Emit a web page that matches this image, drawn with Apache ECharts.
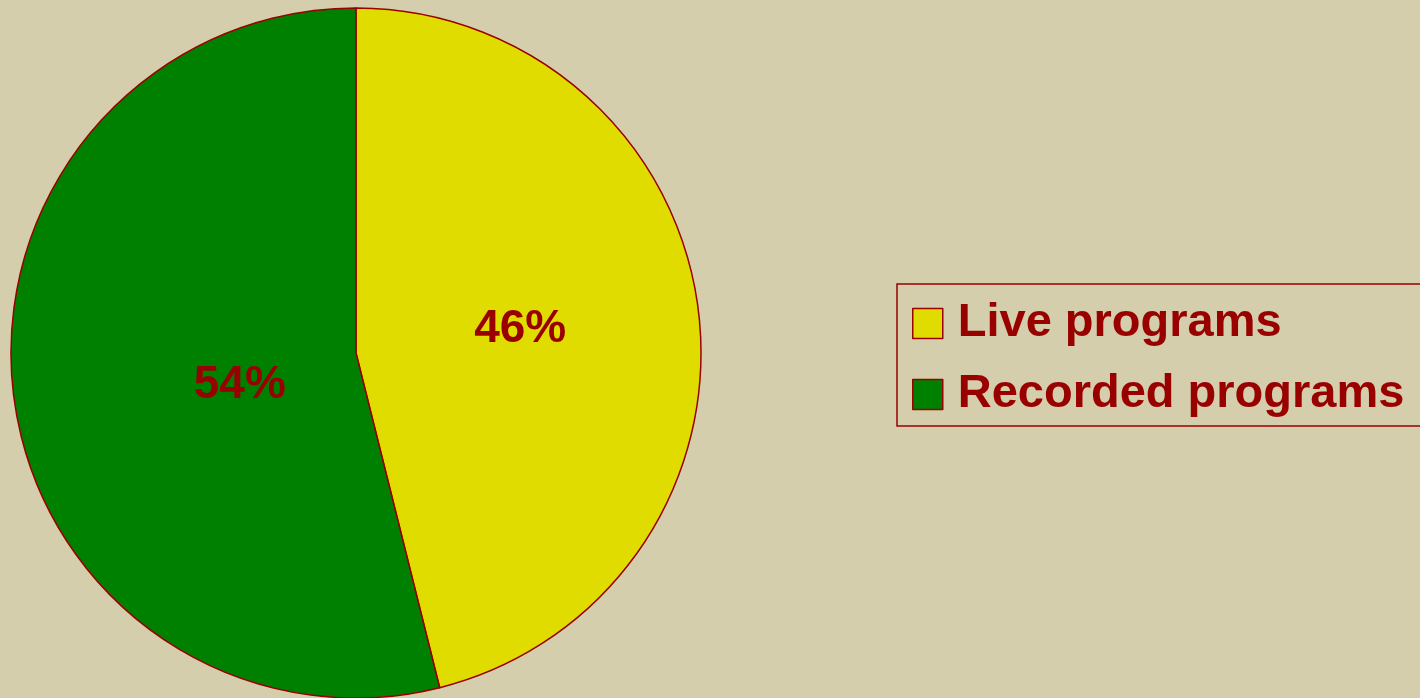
<!DOCTYPE html>
<html>
<head>
<meta charset="utf-8">
<script src="https://cdn.jsdelivr.net/npm/echarts@6/dist/echarts.min.js"></script>
<style>
html,body{margin:0;padding:0;background:#D4CEAC;}
#chart{width:1420px;height:698px;}
</style>
</head>
<body>
<div id="chart"></div>
<script>
var categories = ['Live programs', 'Recorded programs'];
var values = [46.1, 53.9];
var colors = ['#E0DC00', '#008000'];
var labelShift = [[-10, -2], [58, 11]];

var FONT = '"Liberation Sans", Arial, sans-serif';
var chart = echarts.init(document.getElementById('chart'));
var data = categories.map(function (c, i) {
  return { name: c, value: values[i], itemStyle: { color: colors[i] } };
});
chart.setOption({
  animation: false,
  backgroundColor: '#D4CEAC',
  legend: {
    orient: 'vertical',
    left: 897,
    top: 284,
    padding: [16, 40, 8, 15],
    itemGap: 24,
    itemWidth: 30,
    itemHeight: 30,
    icon: 'rect',
    borderColor: '#990000',
    borderWidth: 1.5,
    backgroundColor: 'transparent',
    itemStyle: { borderColor: '#990000', borderWidth: 1.5 },
    textStyle: {
      fontFamily: FONT,
      fontWeight: 'bold',
      fontSize: 47,
      lineHeight: 46,
      color: '#990000',
      padding: [0, 0, 0, 10]
    },
    data: categories
  },
  series: [{
    type: 'pie',
    center: [356, 353],
    radius: 345,
    startAngle: 90,
    clockwise: true,
    data: data,
    itemStyle: { borderColor: '#990000', borderWidth: 1.5 },
    label: {
      position: 'inside',
      formatter: function (p) { return Math.round(p.percent) + '%'; },
      fontFamily: FONT,
      fontWeight: 'bold',
      fontSize: 46,
      color: '#990000'
    },
    labelLayout: function (p) {
      return { dx: labelShift[p.dataIndex][0], dy: labelShift[p.dataIndex][1] };
    },
    emphasis: { disabled: true }
  }]
});
</script>
</body>
</html>
